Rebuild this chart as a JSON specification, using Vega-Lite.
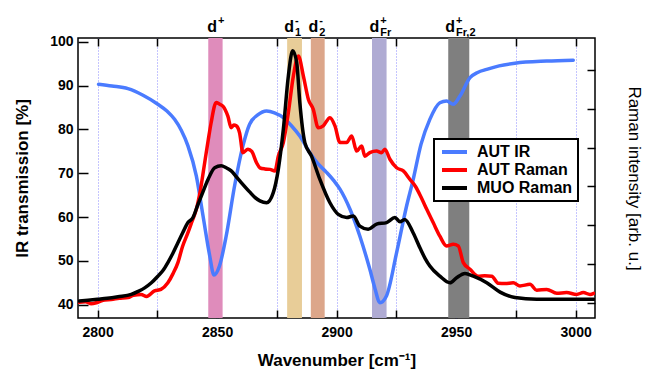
{
  "$schema": "https://vega.github.io/schema/vega-lite/v6.json",
  "width": 517,
  "height": 280,
  "autosize": {"type": "none"},
  "padding": {"left": 78, "top": 38, "right": 52, "bottom": 53},
  "background": "#ffffff",
  "config": {
    "font": "Liberation Sans",
    "view": {"stroke": "#000000", "strokeWidth": 1.5},
    "axisBottom": {"gridDash": [1, 2], "gridColor": "#8a8aff", "gridWidth": 1},
    "legend": {"strokeColor": "#000000", "strokeWidth": 2, "fillColor": "#ffffff"}
  },
  "datasets": {
    "bands": [
      {"band": "d+", "lo": 2846.3, "hi": 2852.3, "pos": 2850.0, "sup": "+", "sub": ""},
      {"band": "d1-", "lo": 2879.3, "hi": 2885.5, "pos": 2882.2, "sup": "-", "sub": "1"},
      {"band": "d2-", "lo": 2889.2, "hi": 2895.0, "pos": 2892.3, "sup": "-", "sub": "2"},
      {"band": "dFr+", "lo": 2914.8, "hi": 2920.9, "pos": 2917.8, "sup": "+", "sub": "Fr"},
      {"band": "dFr2+", "lo": 2946.7, "hi": 2955.5, "pos": 2949.5, "sup": "+", "sub": "Fr,2"}
    ],
    "ir": [
      {"wn": 2800.4, "t": 90.3}, {"wn": 2806, "t": 89.9}, {"wn": 2812.7, "t": 89.3},
      {"wn": 2819, "t": 87.8}, {"wn": 2825.2, "t": 85.75}, {"wn": 2829, "t": 84.2},
      {"wn": 2832.2, "t": 82.3}, {"wn": 2835, "t": 79.8}, {"wn": 2837.8, "t": 76.25},
      {"wn": 2841.3, "t": 69.4}, {"wn": 2844.1, "t": 60.3}, {"wn": 2846.9, "t": 51.2},
      {"wn": 2848.7, "t": 46.8}, {"wn": 2851, "t": 48.9}, {"wn": 2853.8, "t": 55.7},
      {"wn": 2857.3, "t": 67.1}, {"wn": 2860.8, "t": 76.25}, {"wn": 2863.6, "t": 81.2},
      {"wn": 2867, "t": 83.3}, {"wn": 2870.7, "t": 84.2}, {"wn": 2874, "t": 83.8},
      {"wn": 2877.7, "t": 82.7}, {"wn": 2881, "t": 80.9}, {"wn": 2884.6, "t": 78.5},
      {"wn": 2888.8, "t": 74.7}, {"wn": 2892, "t": 72.3}, {"wn": 2895.8, "t": 70.2},
      {"wn": 2899, "t": 68.2}, {"wn": 2901.4, "t": 66.4}, {"wn": 2905.6, "t": 61.8},
      {"wn": 2909.7, "t": 55.7}, {"wn": 2913.9, "t": 48.1}, {"wn": 2916, "t": 43.8},
      {"wn": 2918.1, "t": 40.5}, {"wn": 2920.9, "t": 42.1}, {"wn": 2925.1, "t": 51.9},
      {"wn": 2929.3, "t": 62.6}, {"wn": 2932, "t": 68.5}, {"wn": 2935.3, "t": 76.6},
      {"wn": 2939, "t": 82.3}, {"wn": 2943.2, "t": 86.1}, {"wn": 2946, "t": 86.5},
      {"wn": 2948.8, "t": 85.75}, {"wn": 2951.6, "t": 87.6}, {"wn": 2955.8, "t": 91.8},
      {"wn": 2959, "t": 93.0}, {"wn": 2962.8, "t": 93.7}, {"wn": 2968, "t": 94.5},
      {"wn": 2974.6, "t": 95.1}, {"wn": 2987.9, "t": 95.6}, {"wn": 2999, "t": 95.8}
    ],
    "raman": [
      {"series": "AUT Raman", "wn": 2792.3, "r": 0.02}, {"series": "AUT Raman", "wn": 2795, "r": 0.03},
      {"series": "AUT Raman", "wn": 2797.3, "r": -0.02}, {"series": "AUT Raman", "wn": 2800.1, "r": 0.02},
      {"series": "AUT Raman", "wn": 2803, "r": 0.08}, {"series": "AUT Raman", "wn": 2805.7, "r": 0.09},
      {"series": "AUT Raman", "wn": 2809, "r": 0.12}, {"series": "AUT Raman", "wn": 2812.7, "r": 0.14},
      {"series": "AUT Raman", "wn": 2815, "r": 0.2}, {"series": "AUT Raman", "wn": 2818.2, "r": 0.22},
      {"series": "AUT Raman", "wn": 2820.5, "r": 0.17}, {"series": "AUT Raman", "wn": 2823.8, "r": 0.31},
      {"series": "AUT Raman", "wn": 2826.5, "r": 0.35}, {"series": "AUT Raman", "wn": 2829.4, "r": 0.52},
      {"series": "AUT Raman", "wn": 2831.5, "r": 0.75}, {"series": "AUT Raman", "wn": 2833.6, "r": 1.04},
      {"series": "AUT Raman", "wn": 2835.5, "r": 1.45}, {"series": "AUT Raman", "wn": 2837.8, "r": 1.81},
      {"series": "AUT Raman", "wn": 2839.5, "r": 2.1}, {"series": "AUT Raman", "wn": 2841.3, "r": 2.41},
      {"series": "AUT Raman", "wn": 2843, "r": 2.9}, {"series": "AUT Raman", "wn": 2844.8, "r": 3.61},
      {"series": "AUT Raman", "wn": 2846.3, "r": 4.2}, {"series": "AUT Raman", "wn": 2847.5, "r": 4.64},
      {"series": "AUT Raman", "wn": 2849.6, "r": 5.16}, {"series": "AUT Raman", "wn": 2851, "r": 5.12},
      {"series": "AUT Raman", "wn": 2852.4, "r": 5.07}, {"series": "AUT Raman", "wn": 2854.5, "r": 4.81},
      {"series": "AUT Raman", "wn": 2855.9, "r": 4.51}, {"series": "AUT Raman", "wn": 2857, "r": 4.58},
      {"series": "AUT Raman", "wn": 2858, "r": 4.56}, {"series": "AUT Raman", "wn": 2859.4, "r": 4.38},
      {"series": "AUT Raman", "wn": 2860.8, "r": 3.87}, {"series": "AUT Raman", "wn": 2862.9, "r": 3.96},
      {"series": "AUT Raman", "wn": 2864.5, "r": 3.9}, {"series": "AUT Raman", "wn": 2866.5, "r": 3.61},
      {"series": "AUT Raman", "wn": 2867.9, "r": 3.48}, {"series": "AUT Raman", "wn": 2870, "r": 3.45},
      {"series": "AUT Raman", "wn": 2872.1, "r": 3.44}, {"series": "AUT Raman", "wn": 2874.2, "r": 3.4},
      {"series": "AUT Raman", "wn": 2875.6, "r": 3.78}, {"series": "AUT Raman", "wn": 2877.7, "r": 4.13},
      {"series": "AUT Raman", "wn": 2879.8, "r": 4.9}, {"series": "AUT Raman", "wn": 2881.9, "r": 5.84},
      {"series": "AUT Raman", "wn": 2884, "r": 6.36}, {"series": "AUT Raman", "wn": 2886.1, "r": 5.84},
      {"series": "AUT Raman", "wn": 2888.2, "r": 5.24}, {"series": "AUT Raman", "wn": 2890.2, "r": 4.99},
      {"series": "AUT Raman", "wn": 2892.3, "r": 4.51}, {"series": "AUT Raman", "wn": 2894.4, "r": 4.56},
      {"series": "AUT Raman", "wn": 2897.2, "r": 4.77}, {"series": "AUT Raman", "wn": 2899.3, "r": 4.56},
      {"series": "AUT Raman", "wn": 2901.4, "r": 4.13}, {"series": "AUT Raman", "wn": 2904.2, "r": 4.13},
      {"series": "AUT Raman", "wn": 2906.3, "r": 4.3}, {"series": "AUT Raman", "wn": 2908.4, "r": 3.91},
      {"series": "AUT Raman", "wn": 2910.5, "r": 4.04}, {"series": "AUT Raman", "wn": 2911.8, "r": 3.78},
      {"series": "AUT Raman", "wn": 2913.9, "r": 3.87}, {"series": "AUT Raman", "wn": 2916.7, "r": 3.91},
      {"series": "AUT Raman", "wn": 2918.8, "r": 3.87}, {"series": "AUT Raman", "wn": 2920.2, "r": 3.96},
      {"series": "AUT Raman", "wn": 2922.3, "r": 3.7}, {"series": "AUT Raman", "wn": 2925.1, "r": 3.48},
      {"series": "AUT Raman", "wn": 2927.9, "r": 3.4}, {"series": "AUT Raman", "wn": 2930.7, "r": 3.18},
      {"series": "AUT Raman", "wn": 2933, "r": 3.0}, {"series": "AUT Raman", "wn": 2935.3, "r": 2.73},
      {"series": "AUT Raman", "wn": 2937.7, "r": 2.41}, {"series": "AUT Raman", "wn": 2940.4, "r": 2.07},
      {"series": "AUT Raman", "wn": 2943.2, "r": 1.72}, {"series": "AUT Raman", "wn": 2946, "r": 1.47},
      {"series": "AUT Raman", "wn": 2948.8, "r": 1.51}, {"series": "AUT Raman", "wn": 2950.9, "r": 1.47},
      {"series": "AUT Raman", "wn": 2953, "r": 1.04}, {"series": "AUT Raman", "wn": 2955.8, "r": 0.87},
      {"series": "AUT Raman", "wn": 2959.2, "r": 0.69}, {"series": "AUT Raman", "wn": 2962, "r": 0.7},
      {"series": "AUT Raman", "wn": 2964.9, "r": 0.69}, {"series": "AUT Raman", "wn": 2967.6, "r": 0.51},
      {"series": "AUT Raman", "wn": 2970.5, "r": 0.5}, {"series": "AUT Raman", "wn": 2973.9, "r": 0.52},
      {"series": "AUT Raman", "wn": 2976.7, "r": 0.44}, {"series": "AUT Raman", "wn": 2980.9, "r": 0.48},
      {"series": "AUT Raman", "wn": 2983.7, "r": 0.33}, {"series": "AUT Raman", "wn": 2987.9, "r": 0.35},
      {"series": "AUT Raman", "wn": 2992.1, "r": 0.25}, {"series": "AUT Raman", "wn": 2996.2, "r": 0.27},
      {"series": "AUT Raman", "wn": 3000.4, "r": 0.22}, {"series": "AUT Raman", "wn": 3003.2, "r": 0.27},
      {"series": "AUT Raman", "wn": 3006, "r": 0.22}, {"series": "AUT Raman", "wn": 3007.6, "r": 0.25},
      {"series": "MUO Raman", "wn": 2792.3, "r": 0.05}, {"series": "MUO Raman", "wn": 2796, "r": 0.07},
      {"series": "MUO Raman", "wn": 2800.1, "r": 0.095}, {"series": "MUO Raman", "wn": 2804, "r": 0.12},
      {"series": "MUO Raman", "wn": 2808.5, "r": 0.16}, {"series": "MUO Raman", "wn": 2814.1, "r": 0.22},
      {"series": "MUO Raman", "wn": 2817, "r": 0.3}, {"series": "MUO Raman", "wn": 2819.7, "r": 0.39},
      {"series": "MUO Raman", "wn": 2822.5, "r": 0.52}, {"series": "MUO Raman", "wn": 2825.2, "r": 0.69},
      {"series": "MUO Raman", "wn": 2827.5, "r": 0.85}, {"series": "MUO Raman", "wn": 2829.4, "r": 1.04},
      {"series": "MUO Raman", "wn": 2831.5, "r": 1.28}, {"series": "MUO Raman", "wn": 2833.6, "r": 1.55},
      {"series": "MUO Raman", "wn": 2835.7, "r": 1.82}, {"series": "MUO Raman", "wn": 2837.8, "r": 2.07},
      {"series": "MUO Raman", "wn": 2839.9, "r": 2.2}, {"series": "MUO Raman", "wn": 2842, "r": 2.54},
      {"series": "MUO Raman", "wn": 2844, "r": 2.85}, {"series": "MUO Raman", "wn": 2846.2, "r": 3.18},
      {"series": "MUO Raman", "wn": 2849, "r": 3.48}, {"series": "MUO Raman", "wn": 2851.7, "r": 3.53},
      {"series": "MUO Raman", "wn": 2853.8, "r": 3.48}, {"series": "MUO Raman", "wn": 2855.9, "r": 3.4},
      {"series": "MUO Raman", "wn": 2858, "r": 3.25}, {"series": "MUO Raman", "wn": 2860.1, "r": 3.1},
      {"series": "MUO Raman", "wn": 2863.6, "r": 2.86}, {"series": "MUO Raman", "wn": 2865.8, "r": 2.72},
      {"series": "MUO Raman", "wn": 2867.9, "r": 2.63}, {"series": "MUO Raman", "wn": 2870.7, "r": 2.58},
      {"series": "MUO Raman", "wn": 2873.5, "r": 2.84}, {"series": "MUO Raman", "wn": 2875.6, "r": 3.44},
      {"series": "MUO Raman", "wn": 2877.7, "r": 4.47}, {"series": "MUO Raman", "wn": 2879.8, "r": 5.84},
      {"series": "MUO Raman", "wn": 2881.6, "r": 6.49}, {"series": "MUO Raman", "wn": 2883.3, "r": 6.19},
      {"series": "MUO Raman", "wn": 2884.6, "r": 5.16}, {"series": "MUO Raman", "wn": 2886.7, "r": 4.13},
      {"series": "MUO Raman", "wn": 2889.5, "r": 3.78}, {"series": "MUO Raman", "wn": 2893, "r": 3.18},
      {"series": "MUO Raman", "wn": 2897.2, "r": 2.58}, {"series": "MUO Raman", "wn": 2900.7, "r": 2.28},
      {"series": "MUO Raman", "wn": 2904.2, "r": 2.2}, {"series": "MUO Raman", "wn": 2907, "r": 2.24},
      {"series": "MUO Raman", "wn": 2909.7, "r": 1.98}, {"series": "MUO Raman", "wn": 2913.2, "r": 1.9},
      {"series": "MUO Raman", "wn": 2916.7, "r": 2.03}, {"series": "MUO Raman", "wn": 2920.9, "r": 2.07},
      {"series": "MUO Raman", "wn": 2924.4, "r": 2.2}, {"series": "MUO Raman", "wn": 2926.5, "r": 2.09},
      {"series": "MUO Raman", "wn": 2928.5, "r": 2.15}, {"series": "MUO Raman", "wn": 2932, "r": 1.81},
      {"series": "MUO Raman", "wn": 2935, "r": 1.4}, {"series": "MUO Raman", "wn": 2937, "r": 1.15},
      {"series": "MUO Raman", "wn": 2939, "r": 0.95}, {"series": "MUO Raman", "wn": 2943.2, "r": 0.69},
      {"series": "MUO Raman", "wn": 2947.4, "r": 0.52}, {"series": "MUO Raman", "wn": 2950.2, "r": 0.65},
      {"series": "MUO Raman", "wn": 2953.7, "r": 0.76}, {"series": "MUO Raman", "wn": 2957.2, "r": 0.69},
      {"series": "MUO Raman", "wn": 2962.8, "r": 0.52}, {"series": "MUO Raman", "wn": 2968.4, "r": 0.28},
      {"series": "MUO Raman", "wn": 2974.6, "r": 0.14}, {"series": "MUO Raman", "wn": 2983.7, "r": 0.095},
      {"series": "MUO Raman", "wn": 2993.5, "r": 0.095}, {"series": "MUO Raman", "wn": 3007.6, "r": 0.095}
    ]
  },
  "layer": [
    {
      "data": {"name": "bands"},
      "mark": {"type": "rect"},
      "encoding": {
        "x": {
          "field": "lo", "type": "quantitative",
          "scale": {"domain": [2791.8, 3008.1], "nice": false, "zero": false},
          "axis": {
            "orient": "bottom",
            "values": [2800, 2825, 2850, 2875, 2900, 2925, 2950, 2975, 3000],
            "format": "d",
            "labelExpr": "datum.value % 50 === 0 ? datum.label : ''",
            "labelFlush": false,
            "labelOverlap": false,
            "labelFont": "Liberation Sans",
            "labelFontWeight": "bold",
            "labelFontSize": 14,
            "labelColor": "#000000",
            "labelPadding": 15,
            "tickSize": -8,
            "tickColor": "#000000",
            "tickWidth": 1.5,
            "domain": false,
            "grid": true,
            "title": "Wavenumber [cm⁻¹]",
            "titleFont": "Liberation Sans",
            "titleFontWeight": "bold",
            "titleFontSize": 17,
            "titleColor": "#000000",
            "titleX": 258.5,
            "titleY": 42,
            "titleAlign": "center",
            "titleBaseline": "middle"
          }
        },
        "x2": {"field": "hi"},
        "fill": {
          "field": "band", "type": "nominal",
          "scale": {"domain": ["d+", "d1-", "d2-", "dFr+", "dFr2+"],
                    "range": ["#df8cbb", "#e8cd98", "#dca68a", "#afabd3", "#7f7f7f"]},
          "legend": null
        }
      }
    },
    {
      "data": {"name": "ir"},
      "mark": {"type": "line", "strokeWidth": 3.5, "interpolate": "monotone", "clip": true, "strokeCap": "round", "strokeJoin": "round"},
      "encoding": {
        "x": {"field": "wn", "type": "quantitative", "axis": null},
        "y": {
          "field": "t", "type": "quantitative",
          "scale": {"domain": [37.0, 100.85], "nice": false, "zero": false},
          "axis": {
            "orient": "left",
            "values": [40, 50, 60, 70, 80, 90, 100],
            "labelFont": "Liberation Sans",
            "labelFontWeight": "bold",
            "labelFontSize": 14,
            "labelColor": "#000000",
            "labelPadding": 15,
            "tickSize": -10,
            "tickColor": "#000000",
            "tickWidth": 1.5,
            "domain": false,
            "grid": false,
            "title": "IR transmission [%]",
            "titleFont": "Liberation Sans",
            "titleFontWeight": "bold",
            "titleFontSize": 17,
            "titleColor": "#000000",
            "titleX": -56,
            "titleY": 140,
            "titleAngle": -90,
            "titleAlign": "center",
            "titleBaseline": "middle"
          }
        },
        "color": {
          "datum": "AUT IR", "type": "nominal",
          "scale": {"domain": ["AUT IR", "AUT Raman", "MUO Raman"], "range": ["#4a7bff", "#ff0000", "#000000"]}
        }
      }
    },
    {
      "data": {"name": "raman"},
      "mark": {"type": "line", "strokeWidth": 3.5, "interpolate": "monotone", "clip": true, "strokeCap": "round", "strokeJoin": "round"},
      "encoding": {
        "x": {
          "field": "wn", "type": "quantitative",
          "axis": {
            "orient": "top",
            "values": [2800, 2825, 2850, 2875, 2900, 2925, 2950, 2975, 3000],
            "labels": false,
            "tickSize": -8,
            "tickColor": "#000000",
            "tickWidth": 1.5,
            "domain": false,
            "grid": false,
            "title": null
          }
        },
        "y": {
          "field": "r", "type": "quantitative",
          "scale": {"domain": [-0.386, 6.821], "nice": false, "zero": false},
          "axis": {
            "orient": "right",
            "values": [0, 1, 2, 3, 4, 5, 6],
            "labels": false,
            "tickSize": -8,
            "tickColor": "#000000",
            "tickWidth": 1.5,
            "domain": false,
            "grid": false,
            "title": "Raman intensity [arb. u.]",
            "titleFont": "Liberation Sans",
            "titleFontWeight": "normal",
            "titleFontSize": 17,
            "titleColor": "#000000",
            "titleX": 38,
            "titleY": 140,
            "titleAngle": 90,
            "titleAlign": "center",
            "titleBaseline": "middle"
          }
        },
        "color": {
          "field": "series", "type": "nominal",
          "scale": {"domain": ["AUT IR", "AUT Raman", "MUO Raman"], "range": ["#4a7bff", "#ff0000", "#000000"]},
          "legend": {
            "orient": "none",
            "legendX": 356,
            "legendY": 101,
            "title": null,
            "symbolType": "M-1,0H4",
            "symbolStrokeWidth": 4,
            "symbolSize": 100,
            "labelFont": "Liberation Sans",
            "labelFontWeight": "bold",
            "labelFontSize": 16,
            "labelColor": "#000000",
            "labelOffset": 22,
            "rowPadding": 2,
            "padding": 5
          }
        }
      }
    },
    {
      "data": {"name": "bands"},
      "mark": {"type": "text", "fontSize": 16, "fontWeight": "bold", "align": "right", "baseline": "alphabetic", "color": "#000000"},
      "encoding": {
        "x": {"field": "pos", "type": "quantitative", "axis": null},
        "y": {"datum": 102.22, "type": "quantitative", "axis": null,
              "scale": {"domain": [37.0, 100.85], "nice": false, "zero": false}},
        "text": {"value": "d"}
      }
    },
    {
      "data": {"name": "bands"},
      "mark": {"type": "text", "fontSize": 11, "fontWeight": "bold", "align": "left", "baseline": "alphabetic", "dx": 1, "color": "#000000"},
      "encoding": {
        "x": {"field": "pos", "type": "quantitative", "axis": null},
        "y": {"datum": 104.1, "type": "quantitative", "axis": null,
              "scale": {"domain": [37.0, 100.85], "nice": false, "zero": false}},
        "text": {"field": "sup", "type": "nominal"}
      }
    },
    {
      "data": {"name": "bands"},
      "mark": {"type": "text", "fontSize": 11, "fontWeight": "bold", "align": "left", "baseline": "alphabetic", "dx": 1, "color": "#000000"},
      "encoding": {
        "x": {"field": "pos", "type": "quantitative", "axis": null},
        "y": {"datum": 101.42, "type": "quantitative", "axis": null,
              "scale": {"domain": [37.0, 100.85], "nice": false, "zero": false}},
        "text": {"field": "sub", "type": "nominal"}
      }
    }
  ],
  "resolve": {"scale": {"y": "independent"}, "axis": {"x": "independent"}}
}
